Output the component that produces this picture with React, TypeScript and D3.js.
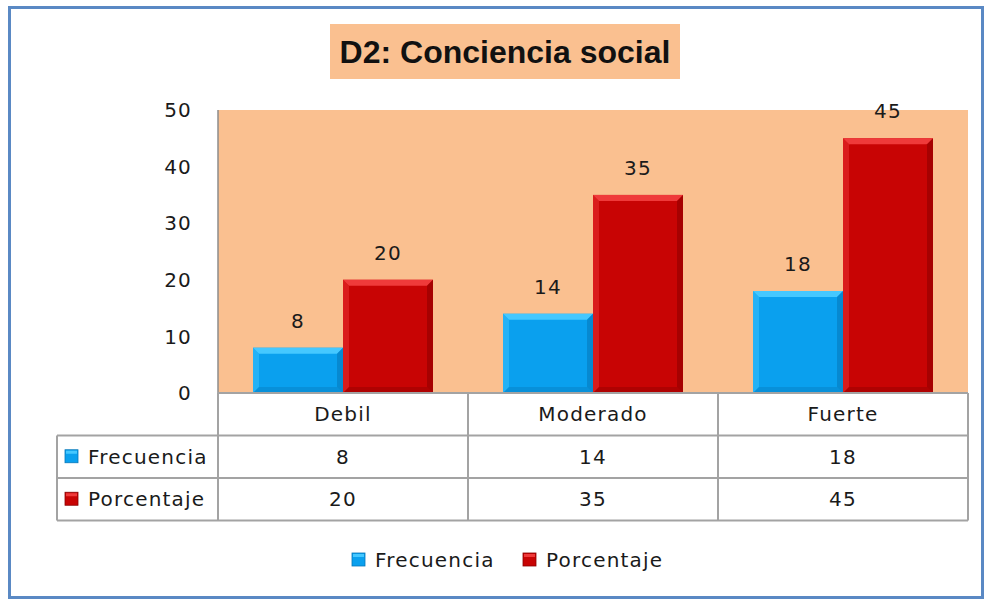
import { useEffect, useRef } from "react";
import * as d3 from "d3";

const categories = ["Debil", "Moderado", "Fuerte"];
const seriesNames = ["Frecuencia", "Porcentaje"];
const frecuencia = [8, 14, 18];
const porcentaje = [20, 35, 45];
const yTicks = [0, 10, 20, 30, 40, 50];

const colors: Record<string, { base: string; light: string; dark: string }> = {
  Frecuencia: { base: "#0aa0ee", light: "#45c8ff", dark: "#0677b8" },
  Porcentaje: { base: "#c80404", light: "#ef3a3a", dark: "#8a0000" },
};

export default function App() {
  const svgRef = useRef<SVGSVGElement>(null);

  useEffect(() => {
    if (!svgRef.current) return;
    const svg = d3.select(svgRef.current);
    svg.selectAll("*").remove();

    const font = "'DejaVu Sans', Verdana, sans-serif";
    const ls = 1.2; // letter spacing, the original text is a bit wide
    const txt = "#1a1a1a";
    const plot = { left: 218, right: 968, top: 110, bottom: 393 };
    const tableLeft = 57;
    const rowH = 42.5;

    // outer chart border
    svg.append("rect")
      .attr("x", 9.5).attr("y", 7.5)
      .attr("width", 973).attr("height", 590)
      .attr("fill", "white")
      .attr("stroke", "#5a89c4")
      .attr("stroke-width", 3);

    // title
    svg.append("rect")
      .attr("x", 330).attr("y", 24)
      .attr("width", 350).attr("height", 55)
      .attr("fill", "#fac090");
    svg.append("text")
      .attr("x", 505).attr("y", 63)
      .attr("text-anchor", "middle")
      .attr("font-family", "'Liberation Sans', Arial, sans-serif")
      .attr("font-weight", "bold")
      .attr("font-size", 32)
      .attr("fill", "#111")
      .text("D2: Conciencia social");

    // plot background
    svg.append("rect")
      .attr("x", plot.left).attr("y", plot.top)
      .attr("width", plot.right - plot.left)
      .attr("height", plot.bottom - plot.top)
      .attr("fill", "#fac090");

    const x = d3.scaleBand<string>()
      .domain(categories)
      .range([plot.left, plot.right])
      .paddingInner(0).paddingOuter(0);
    const xSub = d3.scaleBand<string>()
      .domain(seriesNames)
      .range([0, x.bandwidth()])
      .paddingInner(0)
      .paddingOuter(35 / 90);
    const y = d3.scaleLinear().domain([0, 50]).range([plot.bottom, plot.top]);

    // y axis
    svg.append("line")
      .attr("x1", plot.left).attr("x2", plot.left)
      .attr("y1", plot.top).attr("y2", plot.bottom)
      .attr("stroke", "#8c8c8c").attr("stroke-width", 1.5);
    svg.append("g")
      .selectAll("text")
      .data(yTicks)
      .enter()
      .append("text")
      .attr("x", 192)
      .attr("y", d => y(d))
      .attr("dy", "0.36em")
      .attr("text-anchor", "end")
      .attr("font-family", font)
      .attr("font-size", 20)
      .attr("letter-spacing", ls)
      .attr("fill", txt)
      .text(d => d);

    const bars = categories.flatMap((c, i) => [
      { cat: c, s: "Frecuencia", v: frecuencia[i] },
      { cat: c, s: "Porcentaje", v: porcentaje[i] },
    ]);

    const bv = 6;
    const gBars = svg.append("g");
    bars.forEach(b => {
      const x0 = (x(b.cat) as number) + (xSub(b.s) as number);
      const w = xSub.bandwidth();
      const y0 = y(b.v);
      const y1 = y(0);
      const c = colors[b.s];
      const g = gBars.append("g");
      g.append("rect")
        .attr("x", x0).attr("y", y0)
        .attr("width", w).attr("height", y1 - y0)
        .attr("fill", c.base);
      // bevel: top, left, right, bottom
      g.append("polygon")
        .attr("points", [[x0, y0], [x0 + w, y0], [x0 + w - bv, y0 + bv], [x0 + bv, y0 + bv]].map(p => p.join(",")).join(" "))
        .attr("fill", c.light);
      g.append("polygon")
        .attr("points", [[x0, y0], [x0 + bv, y0 + bv], [x0 + bv, y1 - bv], [x0, y1]].map(p => p.join(",")).join(" "))
        .attr("fill", c.light).attr("opacity", 0.45);
      g.append("polygon")
        .attr("points", [[x0 + w, y0], [x0 + w, y1], [x0 + w - bv, y1 - bv], [x0 + w - bv, y0 + bv]].map(p => p.join(",")).join(" "))
        .attr("fill", c.dark).attr("opacity", 0.55);
      g.append("polygon")
        .attr("points", [[x0, y1], [x0 + w, y1], [x0 + w - bv, y1 - bv], [x0 + bv, y1 - bv]].map(p => p.join(",")).join(" "))
        .attr("fill", c.dark).attr("opacity", 0.4);
      g.append("text")
        .attr("x", x0 + w / 2)
        .attr("y", y0 - 20)
        .attr("text-anchor", "middle")
        .attr("font-family", font)
        .attr("font-size", 20)
        .attr("letter-spacing", ls)
        .attr("fill", txt)
        .text(b.v);
    });

    // data table
    const gt = svg.append("g");
    const gridColor = "#a3a3a3";
    const rowsY = [plot.bottom, plot.bottom + rowH, plot.bottom + 2 * rowH, plot.bottom + 3 * rowH];
    gt.append("line")
      .attr("x1", plot.left).attr("x2", plot.right)
      .attr("y1", rowsY[0]).attr("y2", rowsY[0])
      .attr("stroke", gridColor).attr("stroke-width", 2);
    rowsY.slice(1).forEach(ry => {
      gt.append("line")
        .attr("x1", tableLeft).attr("x2", plot.right)
        .attr("y1", ry).attr("y2", ry)
        .attr("stroke", gridColor).attr("stroke-width", 2);
    });
    gt.append("line")
      .attr("x1", tableLeft).attr("x2", tableLeft)
      .attr("y1", rowsY[1]).attr("y2", rowsY[3])
      .attr("stroke", gridColor).attr("stroke-width", 2);
    [plot.left, ...categories.slice(1).map(c => x(c) as number), plot.right].forEach(vx => {
      gt.append("line")
        .attr("x1", vx).attr("x2", vx)
        .attr("y1", rowsY[0]).attr("y2", rowsY[3])
        .attr("stroke", gridColor).attr("stroke-width", 2);
    });
    categories.forEach(c => {
      gt.append("text")
        .attr("x", (x(c) as number) + x.bandwidth() / 2)
        .attr("y", (rowsY[0] + rowsY[1]) / 2)
        .attr("dy", "0.36em")
        .attr("text-anchor", "middle")
        .attr("font-family", font).attr("font-size", 20)
        .attr("letter-spacing", ls).attr("fill", txt)
        .text(c);
    });
    const seriesVals = [frecuencia, porcentaje];
    seriesNames.forEach((s, si) => {
      const cy = (rowsY[si + 1] + rowsY[si + 2]) / 2;
      const c = colors[s];
      gt.append("rect")
        .attr("x", 65).attr("y", cy - 7)
        .attr("width", 13).attr("height", 13)
        .attr("fill", c.base).attr("stroke", c.dark).attr("stroke-width", 0.8);
      gt.append("rect")
        .attr("x", 66).attr("y", cy - 6)
        .attr("width", 11).attr("height", 3)
        .attr("fill", c.light);
      gt.append("text")
        .attr("x", 88).attr("y", cy)
        .attr("dy", "0.36em")
        .attr("font-family", font).attr("font-size", 20)
        .attr("letter-spacing", ls).attr("fill", txt)
        .text(s);
      categories.forEach((cat, ci) => {
        gt.append("text")
          .attr("x", (x(cat) as number) + x.bandwidth() / 2)
          .attr("y", cy)
          .attr("dy", "0.36em")
          .attr("text-anchor", "middle")
          .attr("font-family", font).attr("font-size", 20)
          .attr("letter-spacing", ls).attr("fill", txt)
          .text(seriesVals[si][ci]);
      });
    });

    // legend
    const legendX = [352, 523];
    seriesNames.forEach((s, i) => {
      const c = colors[s];
      const lg = svg.append("g");
      lg.append("rect")
        .attr("x", legendX[i]).attr("y", 553)
        .attr("width", 13).attr("height", 13)
        .attr("fill", c.base).attr("stroke", c.dark).attr("stroke-width", 0.8);
      lg.append("rect")
        .attr("x", legendX[i] + 1).attr("y", 554)
        .attr("width", 11).attr("height", 3)
        .attr("fill", c.light);
      lg.append("text")
        .attr("x", legendX[i] + 23).attr("y", 560)
        .attr("dy", "0.36em")
        .attr("font-family", font).attr("font-size", 20)
        .attr("letter-spacing", ls).attr("fill", txt)
        .text(s);
    });
  }, []);

  return (
    <svg
      ref={svgRef}
      width={991}
      height={599}
      style={{ position: "absolute", left: 0, top: 0, background: "white" }}
    ></svg>
  );
}
